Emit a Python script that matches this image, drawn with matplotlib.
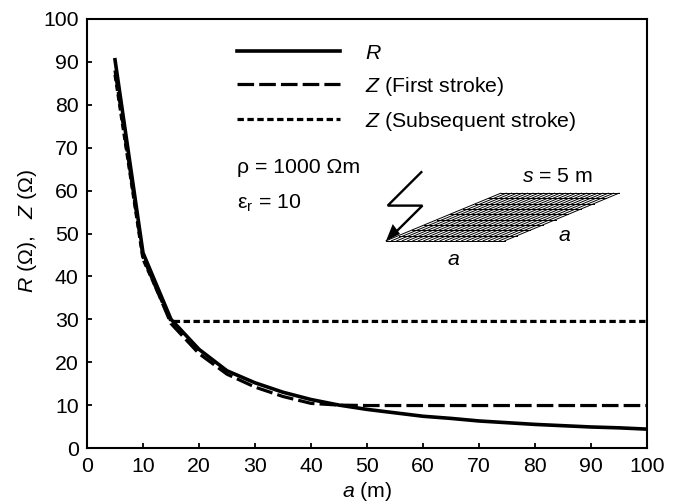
import numpy as np
import matplotlib
matplotlib.use('Agg')
import matplotlib.pyplot as plt

plt.rcParams['font.family'] = ['Liberation Sans', 'DejaVu Sans']
plt.rcParams['mathtext.fontset'] = 'custom'
plt.rcParams['mathtext.rm'] = 'Liberation Sans'
plt.rcParams['mathtext.it'] = 'Liberation Sans:italic'
plt.rcParams['mathtext.default'] = 'regular'

# values
a = [5, 10, 15, 20, 25, 30, 35, 40, 45, 50, 55, 60, 65, 70, 75, 80, 85, 90, 95, 100]
R = [90.5, 45.5, 30, 23, 18, 15.2, 13, 11.3, 10, 9, 8.2, 7.4, 6.9, 6.3, 5.9, 5.5, 5.2, 4.9, 4.7, 4.4]
Z_first = [88, 44.5, 29, 22, 17.2, 14.2, 12, 10.4, 10, 9.9, 9.9, 9.9, 9.9, 9.9, 9.9, 9.9, 9.9, 9.9, 9.9, 9.9]
Z_sub = [87, 44, 29.5, 29.5, 29.5, 29.5, 29.5, 29.5, 29.5, 29.5, 29.5, 29.5, 29.5, 29.5, 29.5, 29.5, 29.5, 29.5, 29.5, 29.5]
ticks = list(range(0, 101, 10))

# sketch of the grid and the lightning stroke, in data units
grid_bl = np.array([53.4, 48.3])
grid_br = np.array([74.6, 48.3])
grid_tl = np.array([73.9, 59.4])
grid_tr = np.array([95.0, 59.4])
bolt_x = [59.7, 53.7, 59.9, 54.5]
bolt_y = [64.3, 56.5, 56.5, 49.5]

fig = plt.figure(figsize=(6.79, 5.04), dpi=100)
ax = fig.add_axes([87/679, 1-448/504, 560/679, 429/504])

ax.plot(a, R, color='k', lw=2.6, solid_joinstyle='miter', label=r'$\mathit{R}$')
ax.plot(a, Z_first, color='k', lw=2.3, dashes=(5.2, 1.6), label=r'$\mathit{Z}$ (First stroke)')
ax.plot(a, Z_sub, color='k', lw=2.3, dashes=(2, 1.1), label=r'$\mathit{Z}$ (Subsequent stroke)')

ax.set_xlim(0, 100)
ax.set_ylim(0, 100)
ax.set_xticks(ticks)
ax.set_yticks(ticks)
ax.tick_params(direction='in', length=3.5, width=1.3, labelsize=15.3)
ax.tick_params(axis='x', pad=6.5)
ax.tick_params(axis='y', pad=6)
for sp in ax.spines.values():
    sp.set_linewidth(1.5)
ax.set_xlabel(r'$\mathit{a}$ (m)', fontsize=15.3, labelpad=3)
ax.set_ylabel(r'$\mathit{R}$ ($\Omega$),   $\mathit{Z}$ ($\Omega$)', fontsize=15.3, labelpad=3, y=0.506)

leg = ax.legend(loc='upper left', bbox_to_anchor=(0.267, 0.942), frameon=False, fontsize=15.3,
                handlelength=4.85, handletextpad=1.2, labelspacing=0.56, borderpad=0, borderaxespad=0)

ax.text(26.8, 65.5, '\u03c1 = 1000 \u03a9m', fontsize=15.3, ha='left', va='center')
ax.text(26.8, 57.0, r'$\epsilon_{r}$ = 10', fontsize=15.3, ha='left', va='center')
ax.text(77.7, 63.3, r'$\mathit{s}$ = 5 m', fontsize=15.3, ha='left', va='center')
ax.text(84.1, 49.6, r'$\mathit{a}$', fontsize=15.3, ha='left', va='center')
ax.text(64.3, 44.0, r'$\mathit{a}$', fontsize=15.3, ha='left', va='center')

# mesh
n_col = 22
n_row = 9
for t in np.linspace(0, 1, n_col + 1):
    p0 = grid_bl + t*(grid_br-grid_bl)
    p1 = grid_tl + t*(grid_tr-grid_tl)
    ax.plot([p0[0], p1[0]], [p0[1], p1[1]], color='k', lw=0.7)
for t in np.linspace(0, 1, n_row + 1):
    p0 = grid_bl + t*(grid_tl-grid_bl)
    p1 = grid_br + t*(grid_tr-grid_br)
    ax.plot([p0[0], p1[0]], [p0[1], p1[1]], color='k', lw=0.7)

# lightning
ax.plot(bolt_x, bolt_y, color='k', lw=1.7, solid_joinstyle='miter')
ax.fill([53.4, 54.6, 55.9], [48.3, 52.2, 49.9], color='k', lw=0)

plt.savefig('out.png', dpi=100)
